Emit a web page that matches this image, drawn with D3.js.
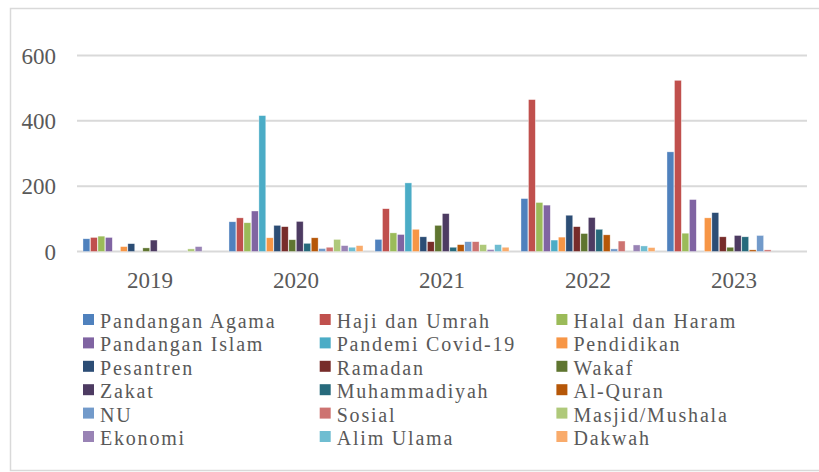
<!DOCTYPE html>
<html>
<head>
<meta charset="utf-8">
<script src="https://cdn.jsdelivr.net/npm/d3@7"></script>
<style>
  body { margin: 0; background: #fff; }
</style>
</head>
<body>
<script>
// categories and series
var years = ["2019", "2020", "2021", "2022", "2023"];
var topics = ["Pandangan Agama", "Haji dan Umrah", "Halal dan Haram",
  "Pandangan Islam", "Pandemi Covid-19", "Pendidikan",
  "Pesantren", "Ramadan", "Wakaf",
  "Zakat", "Muhammadiyah", "Al-Quran",
  "NU", "Sosial", "Masjid/Mushala",
  "Ekonomi", "Alim Ulama", "Dakwah"];
var colors = ["#4F81BD", "#C0504D", "#9BBB59", "#8064A2", "#4BACC6", "#F79646",
  "#2C4D75", "#772C2A", "#5F7530", "#4D3B62", "#276A7C", "#B65708",
  "#729ACA", "#CD7371", "#AFC97A", "#9983B5", "#6FBDD1", "#F9AB6B"];

// values per year, in the same order as topics
var v2019 = [39, 43, 47, 43, 0, 15, 24, 0, 11, 35, 0, 0, 0, 0, 8, 15, 0, 0];
var v2020 = [91, 103, 88, 124, 416, 42, 80, 76, 36, 92, 25, 42, 9, 13, 37, 18, 13, 18];
var v2021 = [37, 131, 57, 52, 210, 68, 45, 30, 80, 116, 13, 21, 30, 30, 21, 6, 21, 13];
var v2022 = [162, 465, 150, 142, 35, 44, 111, 76, 55, 104, 68, 51, 8, 32, 0, 20, 17, 12];
var v2023 = [305, 524, 56, 159, 0, 103, 119, 45, 13, 49, 45, 5, 49, 5, 0, 0, 0, 0];
var yTicks = [0, 200, 400, 600];

var values = [v2019, v2020, v2021, v2022, v2023];

var width = 819, height = 472;
var font = "'Liberation Serif', 'Times New Roman', serif";

var svg = d3.select("body").append("svg")
    .attr("width", width)
    .attr("height", height);

// chart border
svg.append("rect")
    .attr("x", 10.5).attr("y", 8.5)
    .attr("width", 820).attr("height", 462)
    .attr("fill", "none")
    .attr("stroke", "#d9d9d9")
    .attr("stroke-width", 1.5);

var x0 = d3.scaleBand().domain(years).range([77, 807]).paddingInner(0.082).paddingOuter(0.041);
var x1 = d3.scaleBand().domain(d3.range(topics.length)).range([0, x0.bandwidth()]).paddingInner(0.08);
var y = d3.scaleLinear().domain([0, 600]).range([251.5, 55.5]);

// gridlines
svg.append("g")
  .selectAll("line")
  .data(yTicks)
  .enter().append("line")
    .attr("x1", 77).attr("x2", 807)
    .attr("y1", function(d) { return y(d); })
    .attr("y2", function(d) { return y(d); })
    .attr("stroke", "#d9d9d9")
    .attr("stroke-width", 2);

// y labels
svg.append("g")
  .selectAll("text")
  .data(yTicks)
  .enter().append("text")
    .attr("x", 56)
    .attr("y", function(d) { return y(d); })
    .attr("dy", "0.35em")
    .attr("text-anchor", "end")
    .attr("font-family", font)
    .attr("font-size", 23)
    .attr("fill", "#595959")
    .text(function(d) { return d; });

// bars
var groups = svg.append("g")
  .selectAll("g")
  .data(years)
  .enter().append("g")
    .attr("transform", function(d) { return "translate(" + x0(d) + ",0)"; });

groups.selectAll("rect")
  .data(function(d, i) { return values[i].map(function(v, j) { return {v: v, j: j}; }); })
  .enter().append("rect")
    .filter(function(d) { return d.v > 0; })
    .attr("x", function(d) { return x1(d.j); })
    .attr("width", x1.bandwidth())
    .attr("y", function(d) { return y(d.v); })
    .attr("height", function(d) { return y(0) - y(d.v); })
    .attr("fill", function(d) { return colors[d.j]; })
    .attr("stroke", "#fff")
    .attr("stroke-opacity", 0.6)
    .attr("stroke-width", 0.6);

// x labels
svg.append("g")
  .selectAll("text")
  .data(years)
  .enter().append("text")
    .attr("x", function(d) { return x0(d) + x0.bandwidth() / 2; })
    .attr("y", 287.5)
    .attr("text-anchor", "middle")
    .attr("font-family", font)
    .attr("font-size", 23)
    .attr("fill", "#595959")
    .text(function(d) { return d; });

// legend, 3 columns
var legend = svg.append("g")
  .selectAll("g")
  .data(topics)
  .enter().append("g")
    .attr("transform", function(d, i) {
      return "translate(" + (83 + (i % 3) * 236.7) + "," + (328 + Math.floor(i / 3) * 23.4) + ")";
    });

legend.append("rect")
    .attr("x", 0).attr("y", -14)
    .attr("width", 11).attr("height", 11)
    .attr("fill", function(d, i) { return colors[i]; });

legend.append("text")
    .attr("x", 17)
    .attr("y", 0)
    .attr("font-family", font)
    .attr("font-size", 20)
    .attr("fill", "#595959")
    .style("letter-spacing", "1.8px")
    .text(function(d) { return d; });
</script>
</body>
</html>
